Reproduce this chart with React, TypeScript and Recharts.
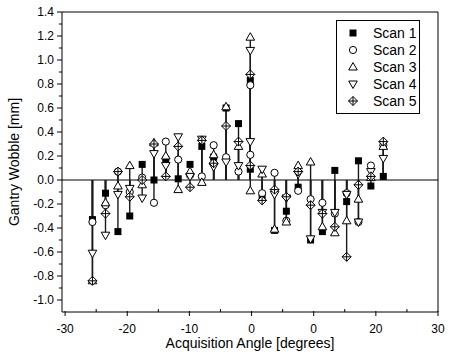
import React from 'react';
import {
  ComposedChart,
  Scatter,
  XAxis,
  YAxis,
  ErrorBar,
  ReferenceLine,
  Legend,
} from 'recharts';

const FONT = '"Liberation Sans", Arial, Helvetica, sans-serif';

// acquisition angles (deg); the centre angle was measured twice
const ANGLES = [
  -25.6, -23.5, -21.5, -19.6, -17.6, -15.7, -13.8, -11.8, -9.9, -8.0, -6.1, -4.1, -2.1,
  -0.2, -0.2, 1.7, 3.7, 5.6, 7.5, 9.5, 11.4, 13.4, 15.3, 17.2, 19.2, 21.2,
];

// gantry wobble per scan (mm)
const SCAN_1 = [
  -0.33, -0.11, -0.43, -0.3, 0.13, 0.0, 0.17, 0.01, 0.13, 0.28, 0.19, 0.6, 0.47,
  0.83, 0.09, -0.14, -0.42, -0.26, -0.06, -0.5, -0.43, 0.08, -0.18, 0.16, -0.05, 0.03,
];
const SCAN_2 = [
  -0.35, -0.21, 0.07, -0.1, 0.02, -0.19, 0.32, 0.17, 0.04, 0.03, 0.29, 0.19, 0.07,
  0.79, 0.21, -0.11, 0.06, -0.34, -0.09, -0.16, -0.19, -0.28, -0.11, -0.35, 0.12, 0.29,
];
const SCAN_3 = [
  -0.84, -0.19, -0.05, 0.12, -0.04, 0.31, 0.2, -0.08, 0.07, -0.02, 0.21, 0.61, 0.28,
  1.19, -0.09, 0.05, -0.41, -0.35, 0.12, 0.15, -0.39, -0.44, -0.34, -0.16, 0.02, 0.28,
];
const SCAN_4 = [
  -0.61, -0.46, -0.12, -0.07, -0.15, 0.22, 0.12, 0.36, 0.03, 0.34, 0.11, 0.15, 0.12,
  1.08, 0.32, 0.09, -0.12, -0.15, 0.05, -0.49, -0.27, -0.27, -0.12, -0.35, 0.07, 0.18,
];
const SCAN_5 = [
  -0.84, -0.28, 0.07, -0.14, 0.0, 0.3, 0.03, 0.28, -0.06, 0.33, 0.14, 0.45, 0.32,
  0.88, 0.12, -0.17, -0.08, -0.14, 0.07, -0.21, -0.28, -0.39, -0.64, -0.04, 0.03, 0.32,
];

const SCAN_NAMES = ['Scan 1', 'Scan 2', 'Scan 3', 'Scan 4', 'Scan 5'];
const SCAN_MARKERS = ['square', 'circle', 'up', 'down', 'diamond'];
const SCAN_VALUES = [SCAN_1, SCAN_2, SCAN_3, SCAN_4, SCAN_5];

const X_MAJOR = [-30, -20, -10, 0, 10, 20, 30];
const X_LABELS = ['-30', '-20', '-10', '0', '0', '20', '30'];
const X_MINOR = [-25, -15, -5, 5, 15, 25];
const Y_MAJOR = [-1.0, -0.8, -0.6, -0.4, -0.2, 0.0, 0.2, 0.4, 0.6, 0.8, 1.0, 1.2, 1.4];
const Y_MINOR = [-0.9, -0.7, -0.5, -0.3, -0.1, 0.1, 0.3, 0.5, 0.7, 0.9, 1.1, 1.3];

// each point carries its drop line to zero as an asymmetric error bar
const series = SCAN_NAMES.map((name, s) => ({
  name,
  marker: SCAN_MARKERS[s],
  data: ANGLES.map((angle, i) => {
    const v = SCAN_VALUES[s][i];
    return { angle, wobble: v, stem: [Math.max(v, 0), Math.max(-v, 0)] };
  }),
}));

function Marker({ kind, cx, cy }: { kind: string; cx: number; cy: number }) {
  if (kind === 'square') {
    return <rect x={cx - 3.5} y={cy - 3.5} width={7} height={7} fill="#000" />;
  }
  if (kind === 'circle') {
    return <circle cx={cx} cy={cy} r={3.6} fill="#fff" stroke="#000" strokeWidth={1} />;
  }
  if (kind === 'up') {
    return (
      <path
        d={`M${cx},${cy - 4.5}L${cx + 4.3},${cy + 3}L${cx - 4.3},${cy + 3}Z`}
        fill="#fff"
        stroke="#000"
        strokeWidth={1}
      />
    );
  }
  if (kind === 'down') {
    return (
      <path
        d={`M${cx},${cy + 4.5}L${cx + 4.3},${cy - 3}L${cx - 4.3},${cy - 3}Z`}
        fill="#fff"
        stroke="#000"
        strokeWidth={1}
      />
    );
  }
  return (
    <g>
      <path
        d={`M${cx},${cy - 4.5}L${cx + 4.5},${cy}L${cx},${cy + 4.5}L${cx - 4.5},${cy}Z`}
        fill="#fff"
        stroke="#000"
        strokeWidth={1}
      />
      <path
        d={`M${cx},${cy - 4.5}V${cy + 4.5}M${cx - 4.5},${cy}H${cx + 4.5}`}
        stroke="#000"
        strokeWidth={1}
      />
    </g>
  );
}

function BottomTick(props: any) {
  const { x, y, payload } = props;
  const i = X_MAJOR.indexOf(payload.value);
  if (i < 0) {
    return <line x1={x} x2={x} y1={y - 3} y2={y} stroke="#000" />;
  }
  return (
    <g>
      <line x1={x} x2={x} y1={y - 1} y2={y + 4} stroke="#000" />
      <text x={x} y={y + 21} textAnchor="middle" fontSize={12} fontFamily={FONT} fill="#000">
        {X_LABELS[i]}
      </text>
    </g>
  );
}

function LeftTick(props: any) {
  const { x, y, payload } = props;
  if (!Y_MAJOR.includes(payload.value)) {
    return <line x1={x - 3} x2={x} y1={y} y2={y} stroke="#000" />;
  }
  return (
    <g>
      <line x1={x - 5} x2={x} y1={y} y2={y} stroke="#000" />
      <text x={x - 8} y={y + 4} textAnchor="end" fontSize={12} fontFamily={FONT} fill="#000">
        {payload.value.toFixed(1)}
      </text>
    </g>
  );
}

function XTitle(props: any) {
  const { viewBox } = props;
  return (
    <text
      x={viewBox.x + viewBox.width / 2}
      y={viewBox.y + 36}
      textAnchor="middle"
      fontSize={14}
      fontFamily={FONT}
      fill="#000"
    >
      Acquisition Angle [degrees]
    </text>
  );
}

function YTitle(props: any) {
  const { viewBox } = props;
  const cy = viewBox.y + viewBox.height / 2;
  return (
    <text
      x={19}
      y={cy}
      transform={`rotate(-90, 19, ${cy})`}
      textAnchor="middle"
      fontSize={14}
      fontFamily={FONT}
      fill="#000"
    >
      Gantry Wobble [mm]
    </text>
  );
}

function LegendBox() {
  return (
    <div style={{ border: '1px solid #000', background: '#fff', width: 82, height: 92 }}>
      <svg width={82} height={92} style={{ display: 'block' }}>
        {series.map((s, i) => (
          <g key={s.name}>
            <Marker kind={s.marker} cx={16} cy={12 + i * 17} />
            <text x={36} y={17 + i * 17} fontSize={14} fontFamily={FONT} fill="#000">
              {s.name}
            </text>
          </g>
        ))}
      </svg>
    </div>
  );
}

export default function App() {
  return (
    <div style={{ position: 'absolute', left: 0, top: 0, background: '#fff' }}>
      <ComposedChart width={450} height={359} margin={{ top: 12, right: 12, bottom: 0, left: 0 }}>
        <XAxis
          dataKey="angle"
          type="number"
          domain={[-30.5, 30]}
          ticks={[...X_MAJOR, ...X_MINOR].sort((a, b) => a - b)}
          interval={0}
          height={47}
          tickSize={0}
          tickMargin={0}
          tickLine={false}
          tick={<BottomTick />}
          axisLine={{ stroke: '#000' }}
          allowDataOverflow
          label={{ value: 'Acquisition Angle [degrees]', content: <XTitle /> }}
        />
        <XAxis
          xAxisId="top"
          orientation="top"
          type="number"
          domain={[-30.5, 30]}
          ticks={[...X_MAJOR, ...X_MINOR].sort((a, b) => a - b)}
          interval={0}
          mirror
          tick={false}
          tickSize={4}
          stroke="#000"
          allowDataOverflow
        />
        <YAxis
          dataKey="wobble"
          type="number"
          domain={[-1.1, 1.4]}
          ticks={[...Y_MAJOR, ...Y_MINOR].sort((a, b) => a - b)}
          interval={0}
          width={62}
          tickSize={0}
          tickMargin={0}
          tickLine={false}
          tick={<LeftTick />}
          axisLine={{ stroke: '#000' }}
          allowDataOverflow
          label={{ value: 'Gantry Wobble [mm]', content: <YTitle /> }}
        />
        <YAxis
          yAxisId="right"
          orientation="right"
          type="number"
          domain={[-1.1, 1.4]}
          ticks={Y_MAJOR}
          interval={0}
          mirror
          tick={false}
          tickSize={5}
          stroke="#000"
          allowDataOverflow
        />
        <ReferenceLine y={0} stroke="#000" strokeWidth={1} />
        {series.map((s) => (
          <Scatter
            key={`${s.name}-stem`}
            name={`${s.name} stem`}
            data={s.data}
            legendType="none"
            shape={() => <g />}
            isAnimationActive={false}
          >
            <ErrorBar dataKey="stem" direction="y" width={0} stroke="#1a1a1a" strokeWidth={1.4} />
          </Scatter>
        ))}
        {series.map((s) => (
          <Scatter
            key={s.name}
            name={s.name}
            data={s.data}
            shape={(p: any) => <Marker kind={s.marker} cx={p.cx} cy={p.cy} />}
            isAnimationActive={false}
          />
        ))}
        <Legend
          layout="horizontal"
          verticalAlign="middle"
          align="center"
          content={() => <LegendBox />}
          wrapperStyle={{ left: 336, top: 20, width: 'auto', height: 'auto' }}
        />
      </ComposedChart>
    </div>
  );
}
